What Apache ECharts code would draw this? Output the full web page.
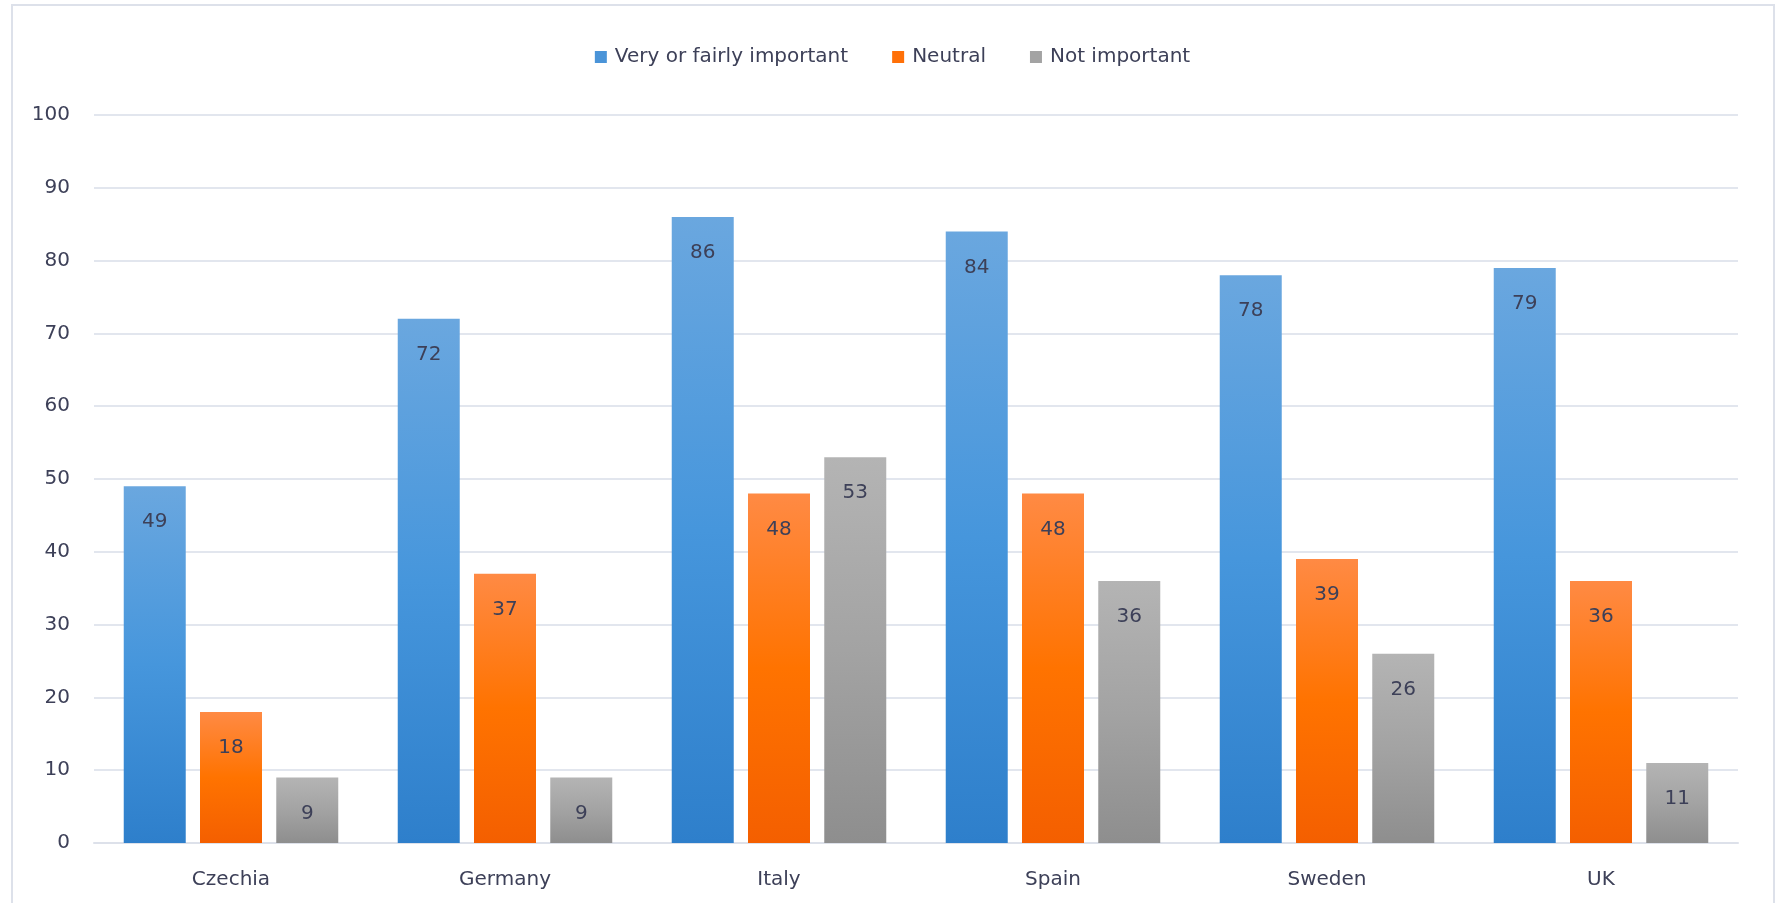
<!DOCTYPE html>
<html><head><meta charset="utf-8">
<script src="https://cdn.jsdelivr.net/npm/echarts@6/dist/echarts.min.js"></script>
<style>html,body{margin:0;padding:0;background:#fff}#c{width:1785px;height:903px}</style>
</head><body><div id="c"></div>
<script>
var categories = ['Czechia','Germany','Italy','Spain','Sweden','UK'];
var seriesNames = ['Very or fairly important','Neutral','Not important'];
var veryImportant = [49,72,86,84,78,79];
var neutral = [18,37,48,48,39,36];
var notImportant = [9,9,53,36,26,11];
var yTicks = [0,10,20,30,40,50,60,70,80,90,100];

var FONT = 'DejaVu Sans';
var TXT = '#3d4058';
function grad(top, mid, bottom){
  return new echarts.graphic.LinearGradient(0,0,0,1,[{offset:0,color:top},{offset:0.5,color:mid},{offset:1,color:bottom}]);
}
var legendColors = ['#4a94d8','#ff7008','#a3a3a3'];
var fills = [grad('#6aa7df','#4696dc','#2e7fcb'), grad('#ff8a44','#ff7300','#f45f00'), grad('#b4b4b4','#a3a3a3','#8e8e8e')];
var datas = [veryImportant, neutral, notImportant];

var chart = echarts.init(document.getElementById('c'));
chart.setOption({
  animation:false,
  backgroundColor:'#fff',
  graphic:[{type:'rect',shape:{x:12,y:5,width:1762,height:920},style:{fill:'none',stroke:'#dde1ea',lineWidth:2},silent:true}],
  legend:{
    top:42, left:'center',
    itemWidth:12, itemHeight:12, itemGap:44, icon:'rect',
    textStyle:{fontFamily:FONT,fontSize:20,color:TXT,padding:[0,0,0,3]},
    data:seriesNames.map(function(n,i){return {name:n,itemStyle:{color:legendColors[i]}};})
  },
  grid:{left:94,right:47,top:115,bottom:60,containLabel:false},
  xAxis:{
    type:'category', data:categories,
    axisLine:{show:true,lineStyle:{color:'#dde1ea',width:2}},
    axisTick:{show:false},
    axisLabel:{fontFamily:FONT,fontSize:20,color:TXT,margin:27}
  },
  yAxis:{
    type:'value', min:yTicks[0], max:yTicks[yTicks.length-1], interval:yTicks[1]-yTicks[0],
    axisLine:{show:false}, axisTick:{show:false},
    splitLine:{lineStyle:{color:'#e2e6ee',width:2}},
    axisLabel:{fontFamily:FONT,fontSize:20,color:TXT,margin:24}
  },
  series:seriesNames.map(function(n,i){
    return {
      name:n, type:'bar', data:datas[i], barWidth:62, barGap:'23%',
      itemStyle:{color:fills[i]},
      label:{show:true,position:'insideTop',distance:26,fontFamily:FONT,fontSize:20,color:TXT}
    };
  })
});
</script></body></html>
